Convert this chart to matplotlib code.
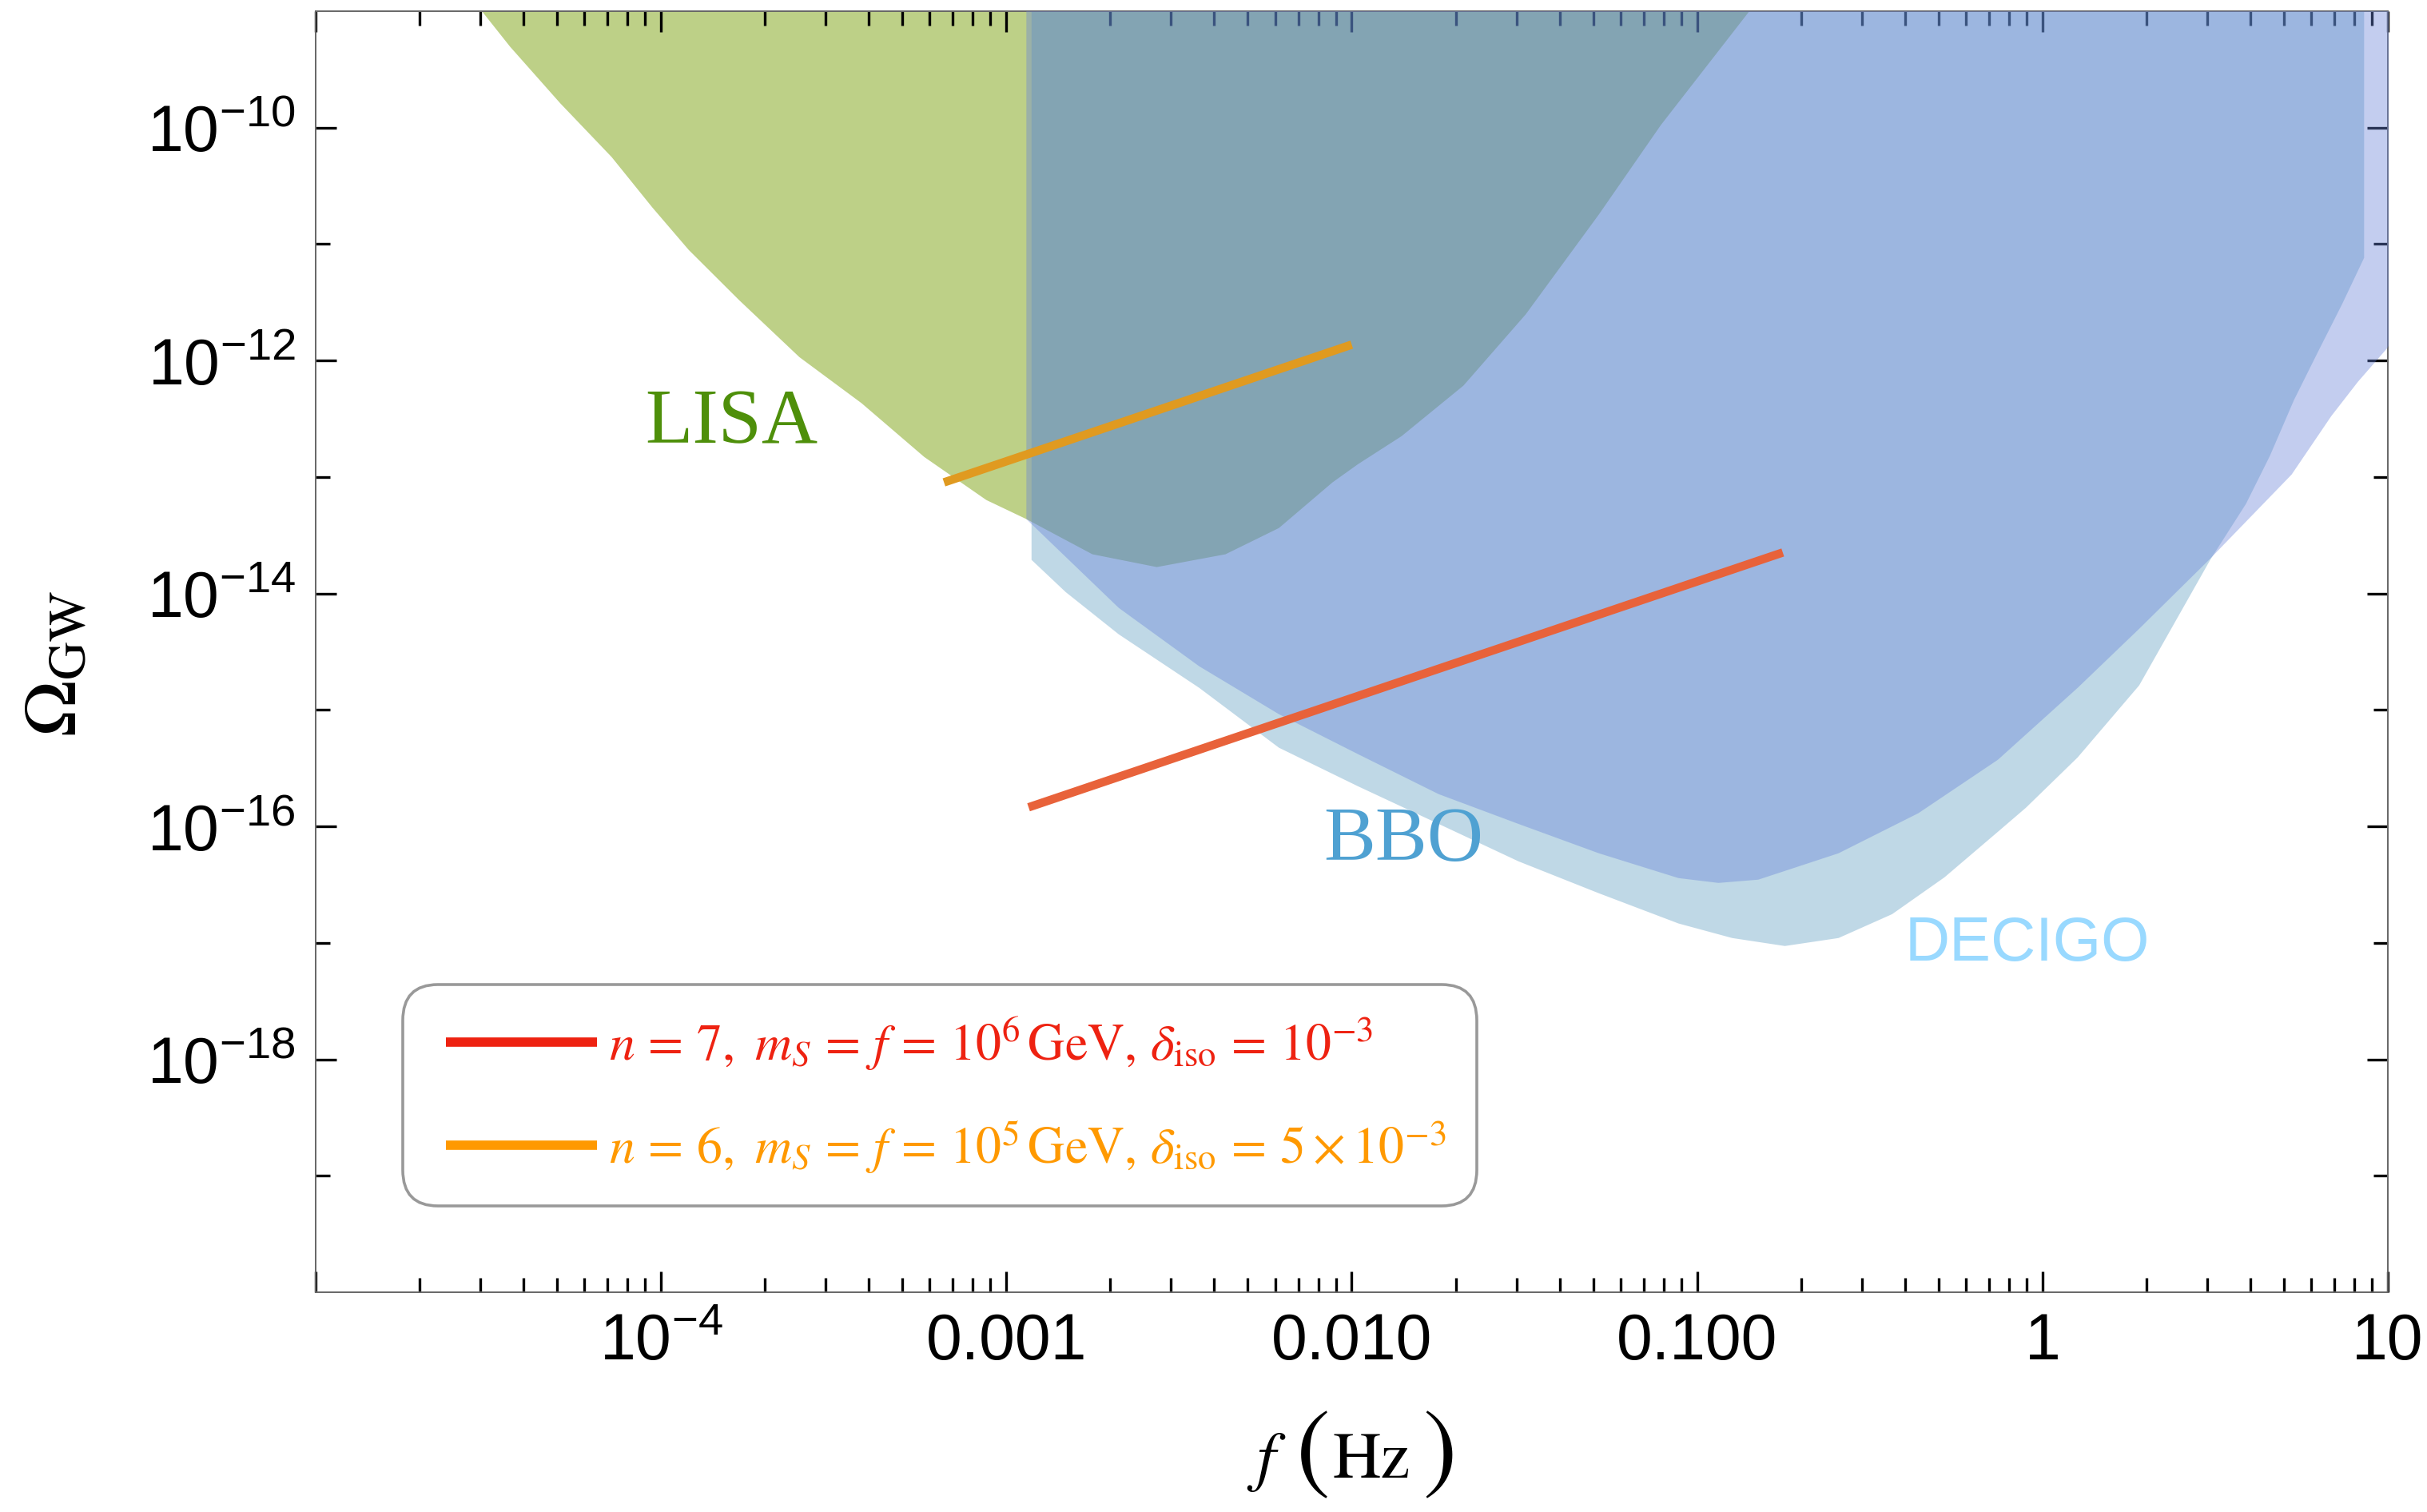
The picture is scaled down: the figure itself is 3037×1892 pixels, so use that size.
import numpy as np
import matplotlib
matplotlib.use("Agg")
import matplotlib.pyplot as plt
from matplotlib.lines import Line2D
from matplotlib.ticker import NullFormatter
from matplotlib.legend_handler import HandlerLine2D

plt.rcParams["font.family"] = ["Liberation Sans", "DejaVu Sans"]
plt.rcParams["mathtext.fontset"] = "custom"
plt.rcParams["mathtext.rm"] = "Liberation Sans"
plt.rcParams["mathtext.it"] = "Liberation Sans:italic"
plt.rcParams["mathtext.bf"] = "Liberation Sans:bold"

# LISA sensitivity curve (f in Hz, Omega_GW)
lisa_f = [2.51e-5, 3.03e-5, 3.65e-5, 5.1e-5, 7.18e-5, 9.42e-5, 1.20e-4, 1.68e-4,
          2.51e-4, 3.80e-4, 5.77e-4, 8.73e-4, 1.14e-3, 1.77e-3, 2.72e-3, 4.30e-3,
          6.14e-3, 8.77e-3, 1.04e-2, 1.39e-2, 2.10e-2, 3.18e-2, 5.18e-2, 7.83e-2,
          0.141, 0.166]
lisa_om = [2.0e-9, 1.0e-9, 4.99e-10, 1.63e-10, 5.64e-11, 2.08e-11, 9.0e-12, 3.33e-12,
           1.08e-12, 4.34e-13, 1.50e-13, 6.40e-14, 4.39e-14, 2.19e-14, 1.70e-14, 2.19e-14,
           3.68e-14, 9.06e-14, 1.30e-13, 2.26e-13, 6.14e-13, 2.51e-12, 1.81e-11, 1.06e-10,
           1.0e-9, 2.0e-9]

# BBO curve
bbo_f = [1.18e-3, 1.48e-3, 2.11e-3, 3.61e-3, 6.14e-3, 1.04e-2, 1.78e-2, 3.03e-2,
         5.18e-2, 8.81e-2, 0.126, 0.179, 0.256, 0.366, 0.519, 0.741, 0.893, 1.26,
         1.90, 3.05, 3.87, 4.54, 5.33, 6.25, 7.35, 8.51]
bbo_om = [1.96e-14, 1.04e-14, 4.50e-15, 1.56e-15, 4.78e-16, 2.23e-16, 1.06e-16, 5.06e-17,
          2.69e-17, 1.48e-17, 1.11e-17, 9.48e-18, 1.11e-17, 1.78e-17, 3.69e-17, 9.08e-17,
          1.46e-16, 3.94e-16, 1.64e-15, 1.96e-14, 5.92e-14, 1.53e-13, 4.61e-13, 1.19e-12,
          3.08e-12, 7.69e-12]

# DECIGO curve
decigo_f = [1.14e-3, 2.11e-3, 3.61e-3, 6.14e-3, 1.04e-2, 1.78e-2, 3.03e-2, 5.18e-2,
            8.81e-2, 0.115, 0.150, 0.256, 0.436, 0.741, 1.26, 1.90, 3.01,
            5.25, 6.84, 8.17, 9.93, 11.2]
decigo_om = [4.39e-14, 7.59e-15, 2.39e-15, 9.27e-16, 4.21e-16, 1.91e-16, 1.06e-16, 5.93e-17,
             3.63e-17, 3.30e-17, 3.52e-17, 5.93e-17, 1.31e-16, 3.77e-16, 1.56e-15,
             5.02e-15, 1.93e-14, 1.06e-13, 3.37e-13, 6.64e-13, 1.29e-12, 2.5e-12]

# signal lines (end points, Omega ~ f)
red_f = [1.16e-3, 0.177]
red_om = [1.46e-16, 2.25e-14]
orange_f = [6.6e-4, 1.0e-2]
orange_om = [9.0e-14, 1.37e-12]

labels = [r"$n\,=\,7,\ m_S\,=\,f\,=\,10^6\,\mathrm{GeV},\,\delta_{\mathrm{iso}}\,=\,10^{-3}$",
          r"$n\,=\,6,\ m_S\,=\,f\,=\,10^5\,\mathrm{GeV},\,\delta_{\mathrm{iso}}\,=\,5\times10^{-3}$"]

xticks = [1e-5, 1e-4, 1e-3, 1e-2, 1e-1, 1, 10]
xticklabels = ["", r"$10^{-4}$", "0.001", "0.010", "0.100", "1", "10"]
yticks = [1e-10, 1e-12, 1e-14, 1e-16, 1e-18]
yticklabels = [r"$10^{-10}$", r"$10^{-12}$", r"$10^{-14}$", r"$10^{-16}$", r"$10^{-18}$"]
yminor = [1e-11, 1e-13, 1e-15, 1e-17, 1e-19]

fig = plt.figure(figsize=(15.185, 9.46), dpi=200)
ax = fig.add_axes([0.130, 0.1453, 0.8539, 0.8473])
top = 1e-7

ax.fill_between(lisa_f, lisa_om, top, color="#bdd087", lw=0, zorder=1)
ax.fill_between(bbo_f, bbo_om, top, color="#5093bc", alpha=0.36, lw=0, zorder=2)
ax.fill_between(decigo_f, decigo_om, top, color="#6984d9", alpha=0.40, lw=0, zorder=3)

ax.plot(red_f, red_om, color="#e8623a", lw=3.8, solid_capstyle="butt", zorder=5)
ax.plot(orange_f, orange_om, color="#e09a20", lw=3.8, solid_capstyle="butt", zorder=5)

ax.set_xscale("log")
ax.set_yscale("log")
ax.set_xlim(1e-5, 10)
ax.set_ylim(1e-20, 1e-9)

ax.set_xticks(xticks)
ax.set_xticklabels(xticklabels)
ax.set_yticks(yticks)
ax.set_yticklabels(yticklabels)
ax.set_yticks(yminor, minor=True)
xminor = [m * 10.0**e for e in range(-5, 1) for m in range(2, 10)]
ax.set_xticks(xminor, minor=True)
ax.xaxis.set_minor_formatter(NullFormatter())
ax.yaxis.set_minor_formatter(NullFormatter())
ax.tick_params(which="both", direction="in", top=True, right=True, width=1.2,
               color="black", labelsize=29, pad=9)
ax.tick_params(which="major", length=9.4)
ax.tick_params(which="minor", length=6.5)
for s in ax.spines.values():
    s.set_color("#666666")
    s.set_linewidth(0.7)

ax.text(9.0e-5, 1.97e-13, "LISA", color="#4e8f0a", fontsize=35,
        family="Liberation Serif", ha="left", va="baseline", zorder=6)
ax.text(8.3e-3, 5.06e-17, "BBO", color="#4fa1d2", fontsize=35,
        family="Liberation Serif", ha="left", va="baseline", zorder=6)
ax.text(0.4, 7.0e-18, "DECIGO", color="#99d9ff", fontsize=28,
        family="Liberation Sans", ha="left", va="baseline", zorder=6)

fig.text(70 / 3037, 1 - 830 / 1892, r"$\Omega_{\mathrm{GW}}$", rotation=90, fontsize=34,
         math_fontfamily="stix", ha="center", va="center")

# x label, pieced together so the brackets can be taller than the text
ly = 1 - 1830 / 1892
fig.text(1585 / 3037, ly, r"$f$", fontsize=30, math_fontfamily="stix",
         ha="center", va="center")
fig.text(1643 / 3037, ly + 0.004, "(", fontsize=46, family="STIXGeneral",
         ha="center", va="center")
fig.text(1716 / 3037, ly, "Hz", fontsize=30, family="STIXGeneral",
         ha="center", va="center")
fig.text(1802 / 3037, ly + 0.004, ")", fontsize=46, family="STIXGeneral",
         ha="center", va="center")

handles = [Line2D([], [], color="#ee2211", lw=4.2, solid_capstyle="butt"),
           Line2D([], [], color="#ff9900", lw=4.2, solid_capstyle="butt")]
leg = ax.legend(handles, labels, loc="lower left", bbox_to_anchor=(0.042, 0.0674),
                borderaxespad=0, fontsize=23, handlelength=3.2, handletextpad=0.25,
                labelspacing=0.9, borderpad=0.6, frameon=True, fancybox=True,
                framealpha=1, edgecolor="#999999", facecolor="white",
                handler_map={Line2D: HandlerLine2D(xpad=0.25)})
leg.get_frame().set_linewidth(1.3)
leg.get_frame().set_boxstyle("round,pad=0,rounding_size=0.7")
for t, c in zip(leg.get_texts(), ["#ee2211", "#ff9900"]):
    t.set_color(c)
    t.set_math_fontfamily("stix")
leg.set_zorder(10)

fig.savefig("out.png", dpi=200)
